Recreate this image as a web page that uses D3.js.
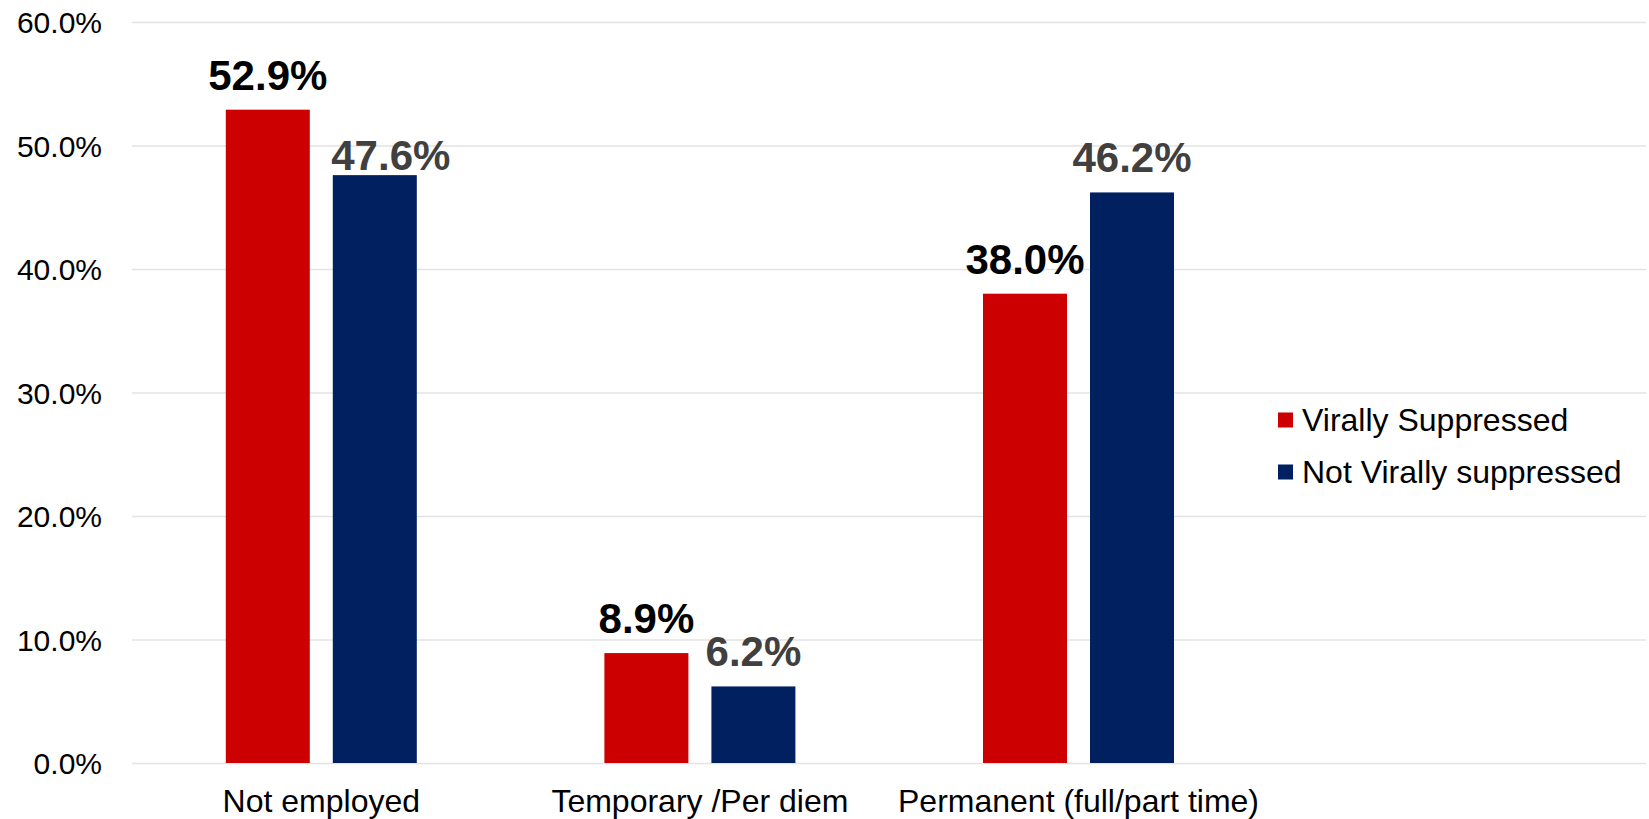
<!DOCTYPE html>
<html>
<head>
<meta charset="utf-8">
<script src="https://cdn.jsdelivr.net/npm/d3@7"></script>
<style>
  html, body { margin: 0; padding: 0; background: #ffffff; }
  svg { display: block; font-family: "Liberation Sans", Arial, sans-serif; }
</style>
</head>
<body>
<svg id="chart" width="1649" height="819"></svg>
<script>
const categories = ["Not employed", "Temporary /Per diem", "Permanent (full/part time)"];
const seriesNames = ["Virally Suppressed", "Not Virally suppressed"];
const virallySuppressed = [52.9, 8.9, 38.0];
const notVirallySuppressed = [47.6, 6.2, 46.2];
const yTicks = [0, 10, 20, 30, 40, 50, 60];

const colors = ["#CC0000", "#002060"];
const labelColors = ["#000000", "#404040"];

const svg = d3.select("#chart");
const plotLeft = 132, plotRight = 1646;
const bandW = 378.6;

const y = d3.scaleLinear().domain([0, 60]).range([763, 22]);
const x = d3.scaleBand().domain(categories)
  .range([plotLeft, plotLeft + bandW * categories.length])
  .paddingInner(0).paddingOuter(0);

const barW = 84, gap = 23;

// gridlines via axis
const yAxis = d3.axisLeft(y).tickValues(yTicks)
  .tickSize(-(plotRight - plotLeft))
  .tickFormat(d => d.toFixed(1) + "%");
const gy = svg.append("g").attr("transform", `translate(${plotLeft},0)`).call(yAxis);
gy.select(".domain").remove();
gy.selectAll(".tick line").attr("stroke", "#e3e3e3").attr("stroke-width", 1.6);
gy.selectAll(".tick text")
  .attr("x", -30)
  .attr("dy", "0.35em")
  .attr("fill", "#000")
  .style("font-size", "30px")
  .style("font-family", '"Liberation Sans", Arial, sans-serif');

// bars
const series = [virallySuppressed, notVirallySuppressed];
const data = [];
categories.forEach((c, i) => {
  series.forEach((s, j) => {
    data.push({ cat: c, series: j, value: s[i] });
  });
});

function barX(d) {
  const center = x(d.cat) + x.bandwidth() / 2;
  return d.series === 0 ? center - gap / 2 - barW : center + gap / 2;
}

svg.append("g").selectAll("rect").data(data).join("rect")
  .attr("x", d => barX(d))
  .attr("y", d => y(d.value))
  .attr("width", barW)
  .attr("height", d => y(0) - y(d.value))
  .attr("fill", d => colors[d.series]);

// manually moved label in the original
const nudges = { "Not employed|1": [16, 15] };

svg.append("g").selectAll("text").data(data).join("text")
  .attr("x", d => barX(d) + barW / 2 + (nudges[d.cat + "|" + d.series] || [0, 0])[0])
  .attr("y", d => y(d.value) - 20 + (nudges[d.cat + "|" + d.series] || [0, 0])[1])
  .attr("text-anchor", "middle")
  .attr("fill", d => labelColors[d.series])
  .style("font-size", "42px")
  .style("font-weight", "bold")
  .text(d => d.value.toFixed(1) + "%");

// x category labels
svg.append("g").selectAll("text").data(categories).join("text")
  .attr("x", d => x(d) + x.bandwidth() / 2)
  .attr("y", 812)
  .attr("text-anchor", "middle")
  .attr("fill", "#000")
  .style("font-size", "32px")
  .text(d => d);

// legend
const legend = svg.append("g");
seriesNames.forEach((name, i) => {
  const cy = 420 + i * 52;
  legend.append("rect")
    .attr("x", 1278).attr("y", cy - 7.5)
    .attr("width", 15).attr("height", 15)
    .attr("fill", colors[i]);
  legend.append("text")
    .attr("x", 1302).attr("y", cy + 11)
    .attr("fill", "#000")
    .style("font-size", "32px")
    .text(name);
});
</script>
</body>
</html>
